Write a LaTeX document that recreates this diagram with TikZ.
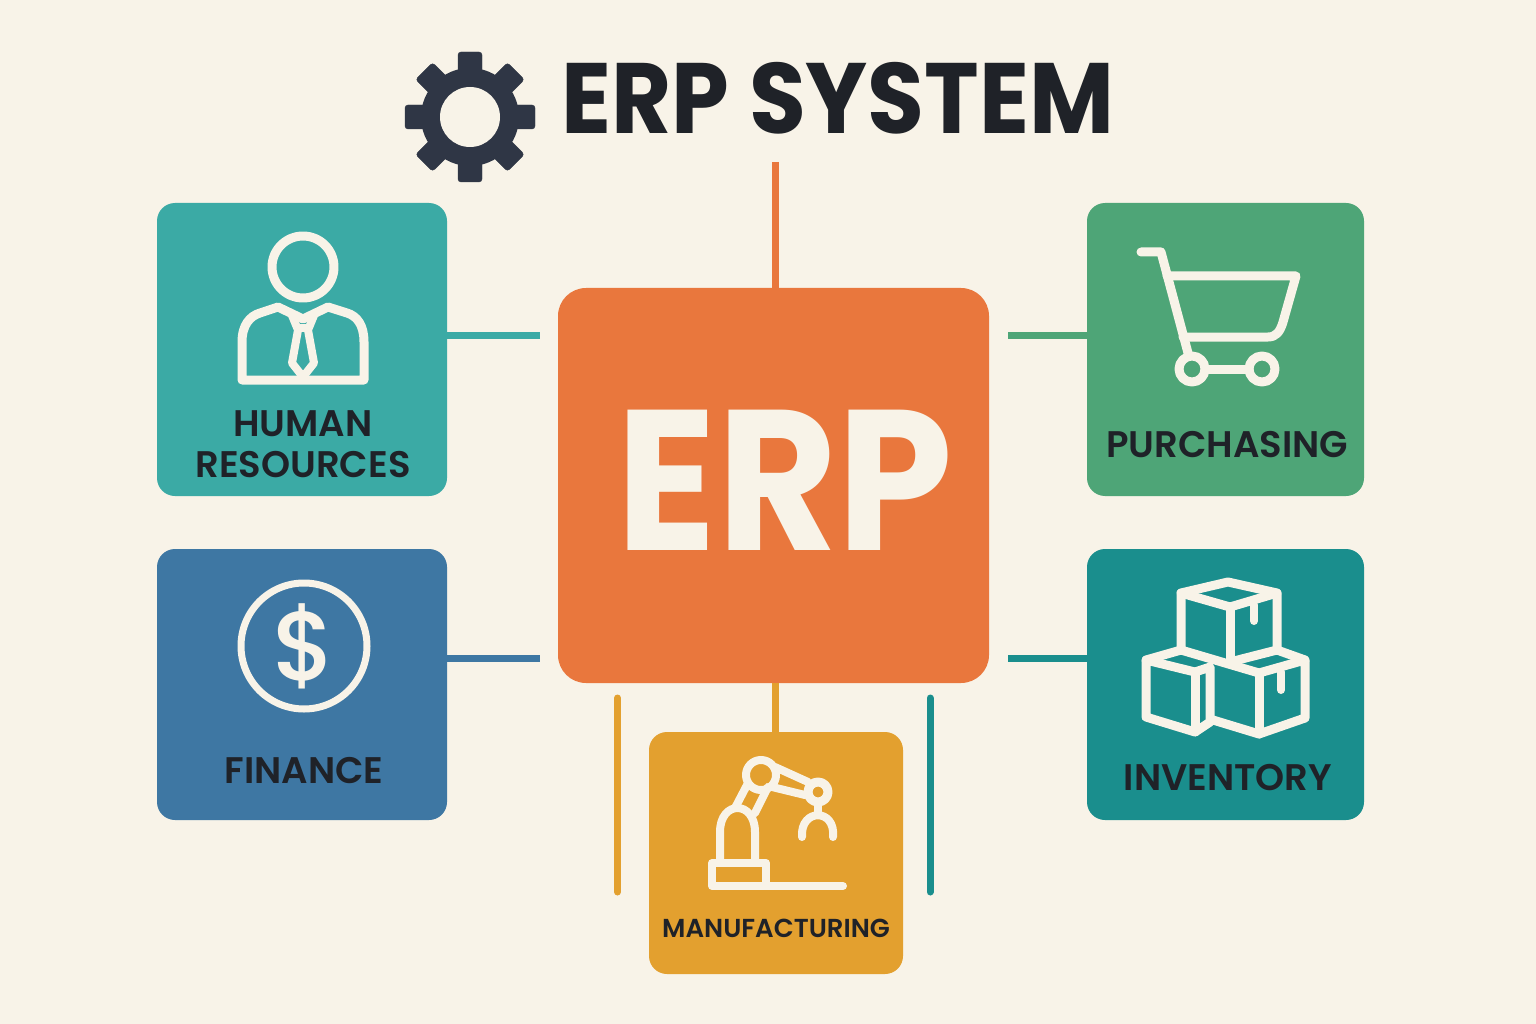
\documentclass[tikz,border=0pt]{standalone}
\usepackage{fontspec}
\usepackage{xcolor}
\setmainfont{Poppins}[BoldFont={Poppins SemiBold}]
\newfontfamily\dollarfont{Poppins Medium}
\newfontfamily\titlefont{Poppins Bold}[FakeStretch=0.925]
\definecolor{bgcream}{HTML}{F8F3E8}
\definecolor{iconcream}{HTML}{F8F3E8}
\definecolor{inkdark}{HTML}{1F2228}
\definecolor{geardark}{HTML}{2F3645}
\definecolor{erporange}{HTML}{E9773D}
\definecolor{hrteal}{HTML}{3BAAA5}
\definecolor{financeblue}{HTML}{3E77A3}
\definecolor{purchasegreen}{HTML}{4EA577}
\definecolor{inventoryteal}{HTML}{1A8E8D}
\definecolor{mfgamber}{HTML}{E3A02F}
\tikzset{
	modbox/.style={inner sep=0pt,rounded corners=18pt},
	modlabel/.style={inkdark,font=\bfseries\fontsize{37}{41}\selectfont,align=center,inner sep=0pt},
	link/.style={line width=7pt},
	icon/.style={iconcream,line width=9pt,line join=round,line cap=round},
	thinicon/.style={iconcream,line width=8pt,line join=round,line cap=round}
}

\begin{document}
\begin{tikzpicture}[x=1pt,y=-1pt]
	\fill[bgcream] (0,0) rectangle (1536,1024);

	% title and gear
	\filldraw[geardark,rounded corners=3pt] (458,52) rectangle (482,182);
	\filldraw[geardark,rounded corners=3pt] (405,105) rectangle (535,129);
	\filldraw[geardark,rounded corners=3pt,rotate around={45:(470,117)}] (458,52) rectangle (482,182);
	\filldraw[geardark,rounded corners=3pt,rotate around={-45:(470,117)}] (458,52) rectangle (482,182);
	\fill[geardark] (470,117) circle (49);
	\fill[bgcream] (470,117) circle (30);
	\node[inkdark,font=\titlefont\fontsize{100}{100}\selectfont,inner sep=0pt] (title) at (838,98) {ERP SYSTEM};

	% the boxes
	\node[modbox,fill=erporange,rounded corners=28pt,minimum width=431pt,minimum height=395pt] (erp) at (773.5,485.5) {};
	\node[modbox,fill=hrteal,minimum width=290pt,minimum height=293pt] (hr) at (302,349.5) {};
	\node[modbox,fill=financeblue,minimum width=290pt,minimum height=271pt] (finance) at (302,684.5) {};
	\node[modbox,fill=purchasegreen,minimum width=277pt,minimum height=293pt] (purchase) at (1225.5,349.5) {};
	\node[modbox,fill=inventoryteal,minimum width=277pt,minimum height=271pt] (inventory) at (1225.5,684.5) {};
	\node[modbox,fill=mfgamber,minimum width=254pt,minimum height=242pt] (mfg) at (776,853) {};

	% connectors
	\coordinate (topend) at (775,162);
	\coordinate (hrend) at (540,335);
	\coordinate (financeend) at (540,658);
	\coordinate (purchaseend) at (1008,335);
	\coordinate (inventoryend) at (1008,658);
	\coordinate (mfgend) at (775,683);
	\draw[link,erporange] (topend) -- (topend |- erp.north);
	\draw[link,hrteal] (hrend -| hr.east) -- (hrend);
	\draw[link,financeblue] (financeend -| finance.east) -- (financeend);
	\draw[link,purchasegreen] (purchaseend -| purchase.west) -- (purchaseend);
	\draw[link,inventoryteal] (inventoryend -| inventory.west) -- (inventoryend);
	\draw[link,mfgamber] (mfgend) -- (mfgend |- mfg.north);

	% loose bars beside manufacturing
	\coordinate (barleft) at (617.5,698);
	\coordinate (barleftend) at (617.5,892);
	\coordinate (barright) at (930,698);
	\coordinate (barrightend) at (930,892);
	\draw[link,mfgamber,line cap=round] (barleft) -- (barleftend);
	\draw[link,inventoryteal,line cap=round] (barright) -- (barrightend);

	% labels
	\node[iconcream,font=\titlefont\fontsize{200}{200}\selectfont,inner sep=0pt] (erptext) at (785,480) {ERP};
	\node[modlabel] (hrtext) at (303,444) {HUMAN\\RESOURCES};
	\node[modlabel] (financetext) at (304,771) {FINANCE};
	\node[modlabel] (purchasetext) at (1227,445) {PURCHASING};
	\node[modlabel] (inventorytext) at (1228,778) {INVENTORY};
	\node[modlabel,font=\bfseries\fontsize{26}{30}\selectfont] (mfgtext) at (776,928) {MANUFACTURING};

	% person
	\draw[icon] (303,267) circle (31);
	\draw[icon] (242,380) -- (242,342) .. controls (242,325) and (250,316) .. (260,313) -- (278,307) -- (303,319) -- (328,307) -- (347,313) .. controls (357,316) and (364,325) .. (364,342) -- (364,380) -- cycle;
	\draw[thinicon] (291,313) -- (298,330) -- (292,363) -- (303,377) -- (314,363) -- (308,330) -- (315,313);
	\draw[thinicon] (298,328) -- (308,328);

	% dollar
	\draw[icon,line width=7pt] (304,646) circle (63);
	\node[iconcream,font=\dollarfont\fontsize{98}{98}\selectfont,inner sep=0pt] (dollar) at (304,646) {\$};

	% cart
	\draw[icon] (1141,252) -- (1161,252) -- (1188,353);
	\draw[icon] (1167,276) -- (1296,276) -- (1283,322) .. controls (1280,332) and (1276,337) .. (1268,337) -- (1183,337);
	\draw[icon] (1192,369) circle (13);
	\draw[icon] (1262,369) circle (13);
	\draw[icon] (1205,369) -- (1249,369);

	% stacked boxes
	\draw[icon] (1181,650) -- (1181,593) -- (1228,582) -- (1277,593) -- (1277,650);
	\draw[icon] (1181,593) -- (1230,607) -- (1277,593);
	\draw[icon] (1230,607) -- (1230,662);
	\draw[icon] (1181,650) -- (1259,673) -- (1305,660) -- (1305,718) -- (1259,734) -- (1213,720);
	\draw[icon] (1259,673) -- (1259,734);
	\draw[icon] (1230,662) -- (1277,650) -- (1305,660);
	\draw[icon] (1146,660) -- (1181,650);
	\draw[icon] (1146,660) -- (1195,672) -- (1210,667) -- (1210,722) -- (1195,732) -- (1146,717) -- cycle;
	\draw[icon] (1195,672) -- (1195,732);
	\draw[thinicon] (1254,605) -- (1254,621);
	\draw[thinicon] (1281,672) -- (1281,690);

	% robot arm
	\draw[thinicon] (712,863) rectangle (766,886);
	\draw[thinicon] (766,886) -- (843,886);
	\draw[thinicon] (720,862) -- (720,832) .. controls (720,800) and (755,800) .. (755,832) -- (755,862);
	\draw[thinicon] (735,808) -- (747,785);
	\draw[thinicon] (755,813) -- (768,787);
	\draw[thinicon] (761,775) circle (15);
	\draw[thinicon] (775,767) -- (808,782);
	\draw[thinicon] (772,787) -- (805,795);
	\draw[icon] (818,792) circle (10);
	\draw[thinicon] (818,803) -- (818,813);
	\draw[thinicon] (802,837) .. controls (800,808) and (836,808) .. (833,837);
\end{tikzpicture}
\end{document}
